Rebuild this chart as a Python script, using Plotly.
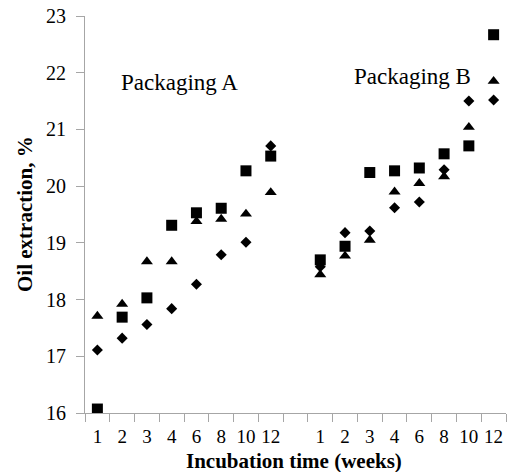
import plotly.graph_objects as go

weeks = ["1", "2", "3", "4", "6", "8", "10", "12"]

a_square = [16.07, 17.69, 18.03, 19.31, 19.53, 19.61, 20.27, 20.53]
a_triangle = [17.71, 17.92, 18.67, 18.67, 19.38, 19.42, 19.51, 19.89]
a_diamond = [17.11, 17.32, 17.56, 17.84, 18.27, 18.79, 19.01, 20.71]

b_square = [18.70, 18.94, 20.24, 20.27, 20.32, 20.57, 20.71, 22.67]
b_triangle = [18.44, 18.77, 19.05, 19.90, 20.05, 20.17, 21.04, 21.85]
b_diamond = [18.58, 19.18, 19.21, 19.62, 19.72, 20.29, 21.50, 21.52]

y_ticks = [16, 17, 18, 19, 20, 21, 22, 23]

n = len(weeks)
gap = 1
xa = list(range(n))
xb = [n + gap + i for i in range(n)]
x_all = xa + xb
labels = weeks + weeks
n_slots = 2 * n + gap

FONT = "Liberation Serif"
GRAY = "#a6a6a6"
W, H = 508, 472
ML, MR, MT, MB = 85, 2, 16, 59

fig = go.Figure()
series = [
    (a_square + b_square, "square", 11),
    (a_diamond + b_diamond, "diamond", 8.5),
    (a_triangle + b_triangle, "triangle-up", 10.5),
]
for vals, sym, size in series:
    fig.add_trace(go.Scatter(
        x=x_all, y=vals, mode="markers",
        marker=dict(symbol=sym, size=size, color="black", line=dict(width=0)),
        showlegend=False, hoverinfo="skip",
    ))

fig.add_annotation(x=3.3, y=21.82, xref="x", yref="y", text="Packaging A",
                   showarrow=False, font=dict(family=FONT, size=23, color="black"))
fig.add_annotation(x=12.72, y=21.93, xref="x", yref="y", text="Packaging B",
                   showarrow=False, font=dict(family=FONT, size=23, color="black"))

pw = W - ML - MR
ph = H - MT - MB
fig.add_annotation(x=(294 - ML) / pw, y=-(461 - (H - MB)) / ph, xref="paper", yref="paper",
                   text="<b>Incubation time (weeks)</b>", showarrow=False,
                   xanchor="center", yanchor="middle",
                   font=dict(family=FONT, size=21, color="black"))
fig.add_annotation(x=-(ML - 25) / pw, y=((H - MB) - 214) / ph, xref="paper", yref="paper",
                   text="<b>Oil extraction, %</b>", showarrow=False, textangle=-90,
                   xanchor="center", yanchor="middle",
                   font=dict(family=FONT, size=21, color="black"))

fig.update_layout(
    width=W, height=H,
    margin=dict(l=ML, r=MR, t=MT, b=MB, autoexpand=False),
    paper_bgcolor="white", plot_bgcolor="white",
    font=dict(family=FONT, color="black"),
    xaxis=dict(
        range=[-0.5, n_slots - 0.5],
        tickmode="array", tickvals=x_all, ticktext=labels,
        ticks="", showgrid=False, zeroline=False, automargin=False,
        showline=True, linecolor=GRAY, linewidth=1,
        ticklabelstandoff=6,
        tickfont=dict(family=FONT, size=19, color="black"),
        minor=dict(ticks="outside", tick0=-0.5, dtick=1, ticklen=8,
                   tickcolor=GRAY, tickwidth=1, showgrid=False),
    ),
    yaxis=dict(
        range=[16, 23], tickmode="array", tickvals=y_ticks,
        ticks="outside", ticklen=8, tickcolor=GRAY, tickwidth=1,
        showgrid=False, zeroline=False, automargin=False,
        showline=True, linecolor=GRAY, linewidth=1,
        ticklabelstandoff=6,
        tickfont=dict(family=FONT, size=20, color="black"),
    ),
)

fig.write_html("out.html", config={"displayModeBar": False},
               post_script="document.body.style.margin='0';document.body.style.overflow='hidden';")
